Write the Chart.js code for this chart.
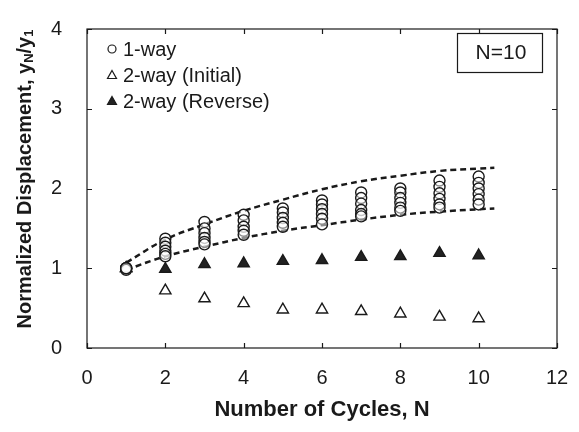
<!DOCTYPE html>
<html lang="en">
<head>
<meta charset="UTF-8">
<title>Normalized Displacement vs Number of Cycles</title>
<script src="https://cdn.jsdelivr.net/npm/chart.js"></script>
<style>
  html, body { margin: 0; padding: 0; background: #fff; }
  #wrap { width: 579px; height: 432px; }
</style>
</head>
<body>
<div id="wrap"><canvas id="chart"></canvas></div>
<script>
// cycle numbers and measured ratios
const cycles = [1, 2, 3, 4, 5, 6, 7, 8, 9, 10];
// 1-way: several test results per cycle
const oneWay = [
  [1.00, 1.00, 0.98, 1.00],
  [1.37, 1.32, 1.27, 1.22, 1.18, 1.15],
  [1.58, 1.50, 1.44, 1.38, 1.33, 1.30],
  [1.67, 1.60, 1.52, 1.47, 1.42],
  [1.75, 1.70, 1.63, 1.57, 1.52],
  [1.85, 1.80, 1.74, 1.68, 1.62, 1.55],
  [1.95, 1.88, 1.81, 1.73, 1.68, 1.65],
  [2.00, 1.95, 1.88, 1.82, 1.76, 1.72],
  [2.10, 2.02, 1.94, 1.87, 1.80, 1.76],
  [2.15, 2.07, 2.00, 1.93, 1.86, 1.80]
];
const twoWayInitial = [1.00, 0.72, 0.62, 0.56, 0.48, 0.48, 0.46, 0.43, 0.39, 0.37];
const twoWayReverse = [1.00, 0.99, 1.05, 1.06, 1.09, 1.10, 1.14, 1.15, 1.19, 1.16];

// dashed envelope curves
const upperEnvX = [1, 2, 3, 4, 5, 6, 7, 8, 9, 10, 10.4];
const upperEnvY = [1.07, 1.36, 1.55, 1.72, 1.86, 1.99, 2.09, 2.16, 2.22, 2.25, 2.26];
const lowerEnvX = [1, 2, 3, 4, 5, 6, 7, 8, 9, 10, 10.4];
const lowerEnvY = [0.98, 1.15, 1.27, 1.38, 1.47, 1.54, 1.61, 1.67, 1.71, 1.74, 1.75];

const xTicks = [0, 2, 4, 6, 8, 10, 12];
const yTicks = [0, 1, 2, 3, 4];
const annotationText = 'N=10';

const INK = '#1a1a1a';
const FONT = 'Arial, "Liberation Sans", sans-serif';

const oneWayPoints = [];
cycles.forEach((n, i) => oneWay[i].forEach(v => oneWayPoints.push({ x: n, y: v })));
const pts = (xs, ys) => xs.map((x, i) => ({ x: x, y: ys[i] }));

const datasets = [
  {
    label: '1-way', data: oneWayPoints, inLegend: true,
    pointStyle: 'circle', pointRadius: 5.5, pointBorderWidth: 1.4,
    pointBackgroundColor: 'rgba(255,255,255,0.5)', pointBorderColor: INK, showLine: false
  },
  {
    label: '2-way (Initial)', data: pts(cycles, twoWayInitial), inLegend: true,
    pointStyle: 'triangle', pointRadius: 6.5, pointBorderWidth: 1.4,
    pointBackgroundColor: '#fff', pointBorderColor: INK, showLine: false
  },
  {
    label: '2-way (Reverse)', data: pts(cycles, twoWayReverse), inLegend: true,
    pointStyle: 'triangle', pointRadius: 6.5, pointBorderWidth: 1.4,
    pointBackgroundColor: '#222', pointBorderColor: INK, showLine: false
  },
  {
    label: 'upper', data: pts(upperEnvX, upperEnvY), showLine: true,
    borderColor: INK, borderWidth: 2.5, borderDash: [6, 4], pointRadius: 0, tension: 0.4, fill: false
  },
  {
    label: 'lower', data: pts(lowerEnvX, lowerEnvY), showLine: true,
    borderColor: INK, borderWidth: 2.5, borderDash: [6, 4], pointRadius: 0, tension: 0.4, fill: false
  }
];

// frame, inward ticks, legend inside the plot, N=10 box, y title with subscripts
const decorations = {
  id: 'decorations',
  afterDraw(chart) {
    const ctx = chart.ctx;
    const a = chart.chartArea;
    const xs = chart.scales.x, ys = chart.scales.y;
    ctx.save();
    ctx.strokeStyle = INK;
    ctx.lineWidth = 1.2;
    ctx.strokeRect(a.left, a.top, a.right - a.left, a.bottom - a.top);

    const tl = 5;
    ctx.beginPath();
    xTicks.forEach(t => {
      const px = Math.round(xs.getPixelForValue(t)) + 0.5;
      ctx.moveTo(px, a.bottom); ctx.lineTo(px, a.bottom - tl);
      ctx.moveTo(px, a.top); ctx.lineTo(px, a.top + tl);
    });
    yTicks.forEach(t => {
      const py = Math.round(ys.getPixelForValue(t)) + 0.5;
      ctx.moveTo(a.left, py); ctx.lineTo(a.left + tl, py);
      ctx.moveTo(a.right, py); ctx.lineTo(a.right - tl, py);
    });
    ctx.stroke();

    // legend
    ctx.font = '20px ' + FONT;
    ctx.textBaseline = 'middle';
    ctx.textAlign = 'left';
    let ly = 49;
    chart.data.datasets.filter(d => d.inLegend).forEach(d => {
      const sx = 112;
      ctx.fillStyle = d.pointBackgroundColor === '#222' ? '#222' : '#fff';
      ctx.strokeStyle = INK;
      ctx.lineWidth = 1.2;
      ctx.beginPath();
      if (d.pointStyle === 'circle') {
        ctx.arc(sx, ly, 4, 0, Math.PI * 2);
      } else {
        ctx.moveTo(sx, ly - 4.5);
        ctx.lineTo(sx + 4.5, ly + 3.5);
        ctx.lineTo(sx - 4.5, ly + 3.5);
        ctx.closePath();
      }
      ctx.fill();
      ctx.stroke();
      ctx.fillStyle = INK;
      ctx.fillText(d.label, 123, ly + 1);
      ly += 26;
    });

    // N=10 box
    ctx.strokeStyle = INK;
    ctx.lineWidth = 1.2;
    ctx.strokeRect(457.5, 33.5, 85, 39);
    ctx.font = '21px ' + FONT;
    ctx.textAlign = 'center';
    ctx.fillText(annotationText, 501, 53);

    // y axis title
    const parts = [
      ['Normalized Displacement, y', 'bold 20px ' + FONT, 0],
      ['N', 'bold 13px ' + FONT, 4],
      ['/y', 'bold 20px ' + FONT, 0],
      ['1', 'bold 13px ' + FONT, 4]
    ];
    let total = 0;
    parts.forEach(p => { ctx.font = p[1]; total += ctx.measureText(p[0]).width; });
    ctx.translate(25, 179);
    ctx.rotate(-Math.PI / 2);
    ctx.textAlign = 'left';
    ctx.textBaseline = 'middle';
    let cx = -total / 2;
    parts.forEach(p => {
      ctx.font = p[1];
      ctx.fillText(p[0], cx, p[2]);
      cx += ctx.measureText(p[0]).width;
    });
    ctx.restore();
  }
};

new Chart(document.getElementById('chart'), {
  type: 'scatter',
  data: { datasets: datasets },
  plugins: [decorations],
  options: {
    responsive: true,
    maintainAspectRatio: false,
    animation: false,
    layout: { padding: { left: 0, top: 18, right: 22, bottom: 0 } },
    plugins: { legend: { display: false }, tooltip: { enabled: false } },
    scales: {
      x: {
        type: 'linear', min: 0, max: 12,
        afterFit: s => { s.height = 84; },
        afterBuildTicks: s => { s.ticks = xTicks.map(v => ({ value: v })); },
        grid: { display: false },
        border: { display: false },
        ticks: { color: INK, font: { family: FONT, size: 20 }, padding: 10, maxRotation: 0 },
        title: { display: true, text: 'Number of Cycles, N', color: INK,
                 font: { family: FONT, size: 22, weight: 'bold' }, padding: { top: 0, bottom: 9 } }
      },
      y: {
        type: 'linear', min: 0, max: 4,
        afterFit: s => { s.width = 87; },
        afterBuildTicks: s => { s.ticks = yTicks.map(v => ({ value: v })); },
        grid: { display: false },
        border: { display: false },
        ticks: { color: INK, font: { family: FONT, size: 20 }, padding: 17 }
      }
    }
  }
});
</script>
</body>
</html>
